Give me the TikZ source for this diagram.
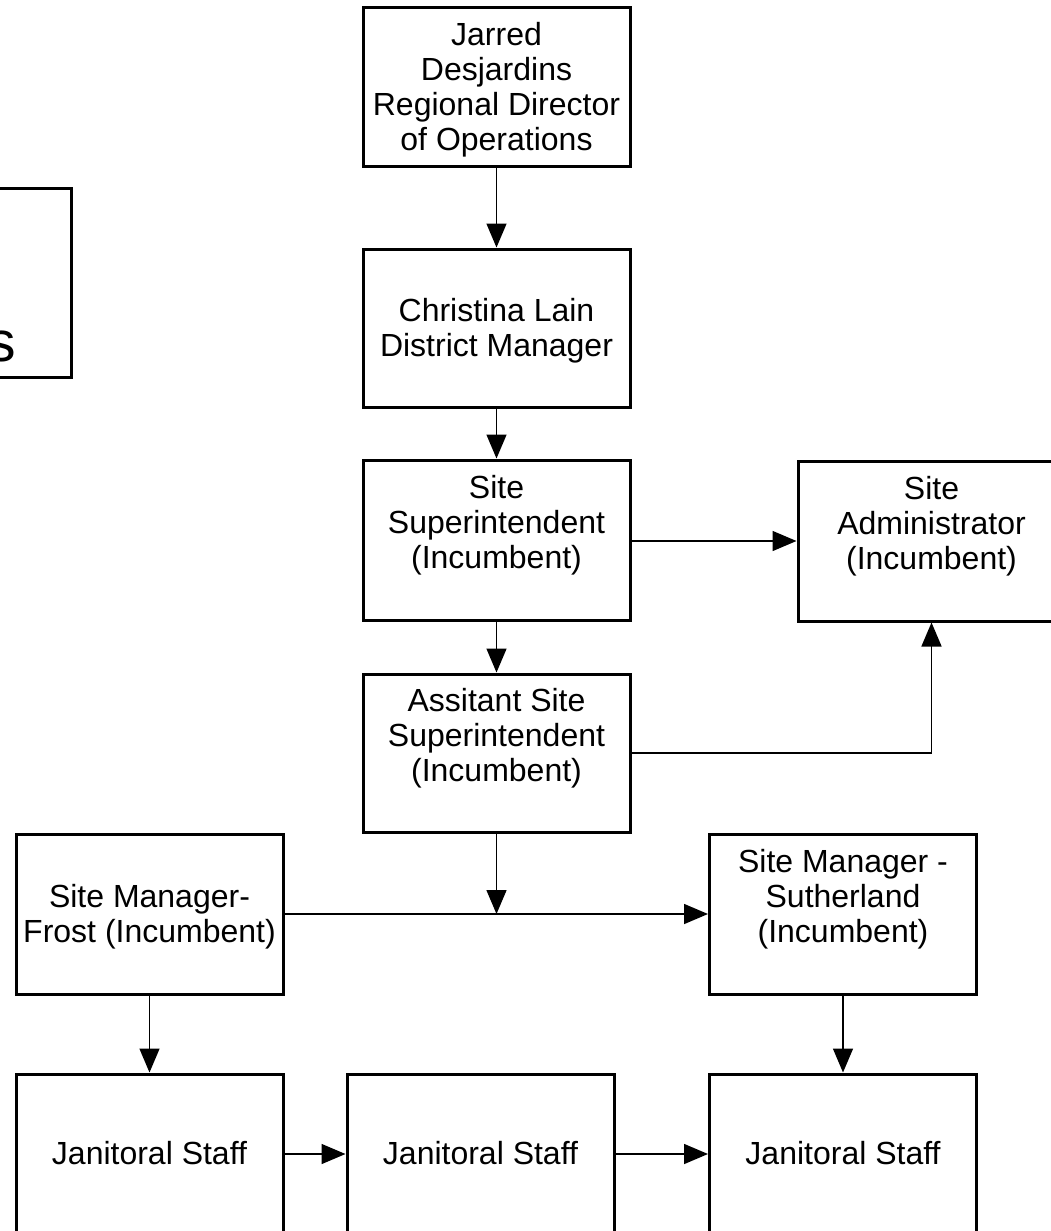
\documentclass[tikz,border=0pt]{standalone}
\usepackage{fontspec}
\setmainfont{Liberation Sans}
\usetikzlibrary{arrows.meta}
\newcommand{\zs}{\rule[-7pt]{0pt}{35pt}}
\tikzset{
  orgbox/.style={draw=black, line width=3pt, minimum width=267pt, minimum height=158pt,
    inner sep=0pt, align=center, font=\fontsize{32}{35}\selectfont},
  conn/.style={draw=black, line width=1.5pt, -{Triangle[length=24pt,width=20pt]}},
  plainline/.style={draw=black, line width=1.5pt}
}
\begin{document}
\begin{tikzpicture}[x=1pt,y=-1pt]
\useasboundingbox (0,0) rectangle (1051,1231);
\clip (0,0) rectangle (1051,1231);
\fill[white] (0,0) rectangle (1051,1231);

% partial box at left
\node[draw=black, line width=3pt, minimum width=300pt, minimum height=189pt, inner sep=0pt] (legend) at (-79,282.5) {};
\node[font=\fontsize{57}{60}\selectfont, inner sep=0pt, anchor=base east] (legendtext) at (16,361) {s};

\node[orgbox] (jarred) at (496.5,87) {\zs Jarred\\\zs Desjardins\\\zs Regional Director\\\zs of Operations};
\node[orgbox] (christina) at (496.5,328) {\zs Christina Lain\\\zs District Manager};
\node[orgbox, minimum height=160pt] (ss) at (496.5,540) {\zs Site\\\zs Superintendent\\\zs (Incumbent)\\\zs};
\node[orgbox, minimum height=160pt] (sa) at (931.5,541) {\zs Site\\\zs Administrator\\\zs (Incumbent)\\\zs};
\node[orgbox] (ast) at (496.5,753) {\zs Assitant Site\\\zs Superintendent\\\zs (Incumbent)\\\zs};
\node[orgbox, minimum height=160pt] (frost) at (149.5,914) {\zs Site Manager-\\\zs Frost (Incumbent)};
\node[orgbox, minimum height=160pt] (suth) at (843,914) {\zs Site Manager -\\\zs Sutherland\\\zs (Incumbent)\\\zs};
\node[orgbox, minimum height=160pt] (j1) at (149.5,1154) {\zs Janitoral Staff};
\node[orgbox, minimum height=160pt] (j2) at (480.5,1154) {\zs Janitoral Staff};
\node[orgbox, minimum height=160pt] (j3) at (843,1154) {\zs Janitoral Staff};

\coordinate (jn) at (ast.south |- frost.east);

\draw[conn] (jarred.south) -- (christina.north);
\draw[conn] (christina.south) -- (ss.north);
\draw[conn] (ss.east |- sa.west) -- (sa.west);
\draw[conn] (ss.south) -- (ast.north);
\draw[conn] (ast.east) -| (sa.south);
\draw[conn] (ast.south) -- (jn);
\draw[conn] (frost.east) -- (suth.west);
\draw[conn] (frost.south) -- (j1.north);
\draw[conn] (suth.south) -- (j3.north);
\draw[conn] (j1.east) -- (j2.west);
\draw[conn] (j2.east) -- (j3.west);
\end{tikzpicture}
\end{document}
